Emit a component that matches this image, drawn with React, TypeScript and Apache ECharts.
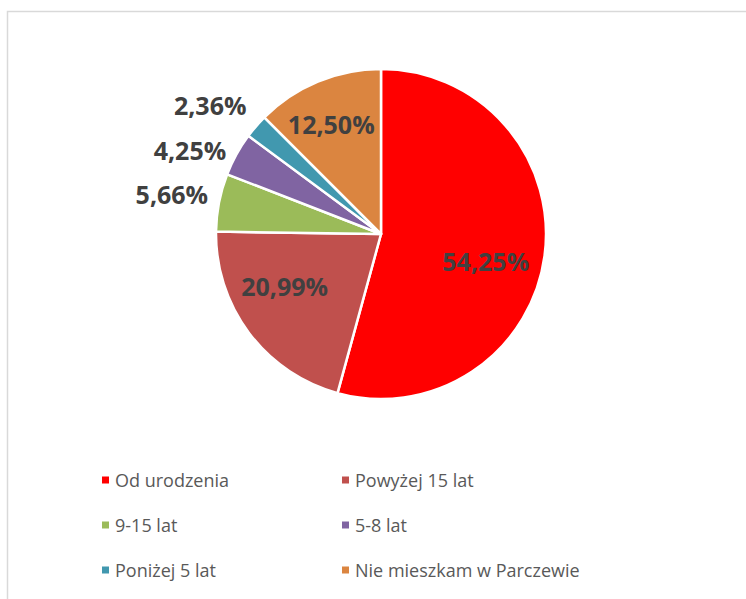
import React, { useEffect, useRef } from "react";
import * as echarts from "echarts";

const categories = ["Od urodzenia", "Powyżej 15 lat", "9-15 lat", "5-8 lat", "Poniżej 5 lat", "Nie mieszkam w Parczewie"];
const values = [54.25, 20.99, 5.66, 4.25, 2.36, 12.5];
const colors = ["#FF0000", "#C0504D", "#9BBB59", "#8064A2", "#4198AF", "#DB8540"];
const insideLabel = [true, true, false, false, false, true];
const labelOffset: number[][] = [
  [-3, 16],
  [0, 1],
  [0, -7],
  [0, -1],
  [0, -17],
  [-3, -31],
];

export default function App() {
  const ref = useRef<HTMLDivElement>(null);
  useEffect(() => {
    if (!ref.current) return;
    const chart = echarts.init(ref.current, undefined, { renderer: "svg" });
    const data = categories.map((name, i) => ({
      name,
      value: values[i],
      itemStyle: { color: colors[i] },
      label: insideLabel[i]
        ? {
            position: "inside",
            padding: i === 0 ? [0, 0, 0, 46] : i === 1 ? [0, 56, 0, 0] : [0, 28, 0, 0],
            offset: labelOffset[i],
          }
        : { position: "outside", offset: labelOffset[i] },
    }));
    chart.setOption({
      animation: false,
      backgroundColor: "#ffffff",
      graphic: [
        {
          type: "rect",
          shape: { x: 7.5, y: 11.5, width: 800, height: 700 },
          style: { fill: "none", stroke: "#D9D9D9", lineWidth: 1.5 },
          silent: true,
        },
      ],
      legend: {
        left: 100,
        top: 460,
        width: 520,
        padding: 0,
        orient: "horizontal",
        itemWidth: 9,
        itemHeight: 9,
        itemGap: 5,
        icon: "rect",
        textStyle: {
          fontFamily: "Open Sans",
          fontSize: 18,
          color: "#595959",
          width: 220,
          lineHeight: 40,
        },
        data: categories,
      },
      series: [
        {
          type: "pie",
          center: [381, 234],
          radius: 165,
          startAngle: 90,
          clockwise: true,
          avoidLabelOverlap: false,
          itemStyle: { borderColor: "#ffffff", borderWidth: 2.5 },
          label: {
            show: true,
            formatter: (p: any) => p.value.toFixed(2).replace(".", ",") + "%",
            fontFamily: "Open Sans",
            fontWeight: "bold",
            fontSize: 25,
            color: "#404040",
          },
          labelLine: { show: false, length: 6, length2: 0 },
          data,
        },
      ],
    });
    return () => chart.dispose();
  }, []);
  return (
    <div
      ref={ref}
      style={{ position: "fixed", left: 0, top: 0, width: 746, height: 599 }}
    />
  );
}
